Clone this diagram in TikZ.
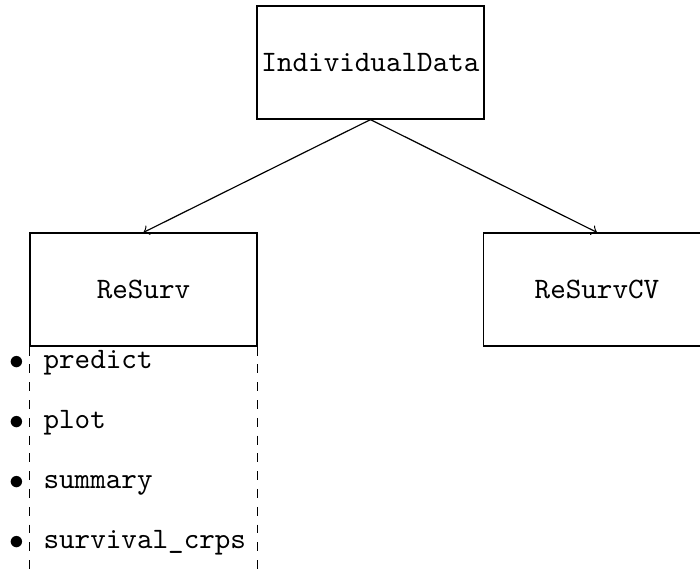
\documentclass[tikz,border=0pt]{standalone}
\begin{document}
\begin{tikzpicture}[x=0.3371pt,y=-0.3371pt,
  box/.style={draw, minimum width=76.5pt, minimum height=38.1pt, inner sep=0pt, font=\ttfamily},
  listbox/.style={minimum width=76.5pt, minimum height=120pt, inner sep=0pt},
  itemtext/.style={anchor=west, inner sep=0pt, font=\ttfamily},
  bul/.style={inner sep=0pt}]
\useasboundingbox (0,0) rectangle (700,572);
\clip (0,0) rectangle (700,572);
\node[box] (ind) at (370.5,62.5) {IndividualData};
\node[box] (rs) at (143.5,289.5) {ReSurv};
\node[box] (cv) at (597,289.5) {ReSurvCV};
\draw[->] (ind.south) -- (rs.north);
\draw[->] (ind.south) -- (cv.north);
\node[listbox, anchor=north] (methods) at (rs.south) {};
\draw[dashed] (methods.north west) -- (methods.south west);
\draw[dashed] (methods.north east) -- (methods.south east);
\node[bul] (b1) at (17,363) {$\bullet$};
\node[bul] (b2) at (17,423) {$\bullet$};
\node[bul] (b3) at (17,483) {$\bullet$};
\node[bul] (b4) at (17,543) {$\bullet$};
\node[itemtext] (t1) at (43,363) {\vphantom{pl}predict};
\node[itemtext] (t2) at (43,423) {\vphantom{pl}plot};
\node[itemtext] (t3) at (43,483) {\vphantom{pl}summary};
\node[itemtext] (t4) at (43,543) {\vphantom{pl}survival\_crps};
\end{tikzpicture}
\end{document}
